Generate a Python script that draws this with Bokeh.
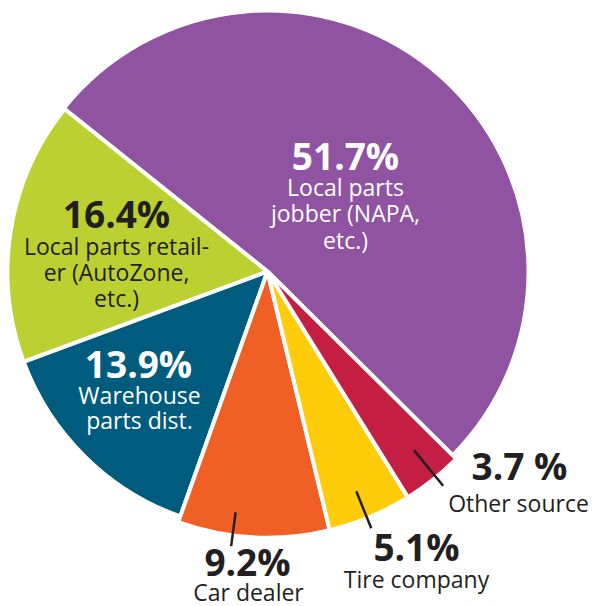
import math
from bokeh.plotting import figure
from bokeh.models import Range1d, ColumnDataSource
from bokeh.core.properties import value
from bokeh.embed import file_html
from bokeh.resources import INLINE

# ---- data ----
categories = ["Local parts jobber (NAPA, etc.)", "Local parts retailer (AutoZone, etc.)",
              "Warehouse parts dist.", "Car dealer", "Tire company", "Other source"]
shares = [51.7, 16.4, 13.9, 9.2, 5.1, 3.7]
pct_labels = ["51.7%", "16.4%", "13.9%", "9.2%", "5.1%", "3.7 %"]
desc_labels = ["Local parts\njobber (NAPA,\netc.)", "Local parts retail-\ner (AutoZone,\netc.)",
               "Warehouse\nparts dist.", "Car dealer", "Tire company", "Other source"]

# ---- style / layout ----
colors = ["#8F53A1", "#BDD031", "#005C7E", "#F06024", "#FECC09", "#C41F43"]
text_colors = ["white", "#231F20", "white", "#231F20", "#231F20", "#231F20"]
W, H = 592, 606
def px(sx): return sx
def py(sy): return H - sy

cx, cy = px(267), py(271)
radii = [261, 260, 260, 266, 266, 266]   # slice radii (px), small slices slightly pulled out
start_deg = -44.8
# label anchors (screen px): percentage line, first description line
pct_pos = [(345, 155), (116, 213), (138, 363), (247, 561), (416, 546), (519, 465)]
desc_pos = [(345, 186), (116, 245), (139, 394), (248, 591), (416, 578), (518, 502)]
line_gap = [26.5, 26, 25, 0, 0, 0]
leader = [None, None, None, (-4.5, 243, 277), (-0.7, 237, 277), (0.8, 231, 277)]

p = figure(width=W, height=H, output_backend="svg", toolbar_location=None,
           x_range=Range1d(0, W), y_range=Range1d(0, H), min_border=0)
p.axis.visible = False
p.grid.visible = False
p.outline_line_color = None
p.background_fill_color = "white"

total = sum(shares)
starts, ends, mids = [], [], []
a = start_deg
for s in shares:
    span = 360.0 * s / total
    starts.append(math.radians(a))
    ends.append(math.radians(a + span))
    mids.append(a + span / 2)
    a += span

src = ColumnDataSource(dict(start=starts, end=ends, color=colors, r=radii))
p.wedge(x=cx, y=cy, radius="r", start_angle="start", end_angle="end",
        fill_color="color", line_color="white", line_width=4, source=src)

# leader lines
xs, ys = [], []
for i, ld in enumerate(leader):
    if ld is None:
        continue
    off, r0, r1 = ld
    ang = math.radians(mids[i] + off)
    xs.append([cx + r0 * math.cos(ang), cx + r1 * math.cos(ang)])
    ys.append([cy + r0 * math.sin(ang), cy + r1 * math.sin(ang)])
p.multi_line(xs=xs, ys=ys, line_color="#231F20", line_width=2.5)

# percentage labels
p.text(x=[px(x) for x, _ in pct_pos], y=[py(y) for _, y in pct_pos], text=pct_labels,
       text_color=text_colors, text_font=value("Open Sans"), text_font_style="bold",
       text_font_size="37px", text_align="center", text_baseline="middle")

# description labels
dx, dy, dt, dc = [], [], [], []
for i, lab in enumerate(desc_labels):
    for j, line in enumerate(lab.split("\n")):
        dx.append(px(desc_pos[i][0]))
        dy.append(py(desc_pos[i][1] + j * line_gap[i]))
        dt.append(line)
        dc.append(text_colors[i])
p.text(x=dx, y=dy, text=dt, text_color=dc, text_font=value("Open Sans"),
       text_font_size="23px", text_align="center", text_baseline="middle")

open("out.html", "w").write(file_html(p, INLINE))
